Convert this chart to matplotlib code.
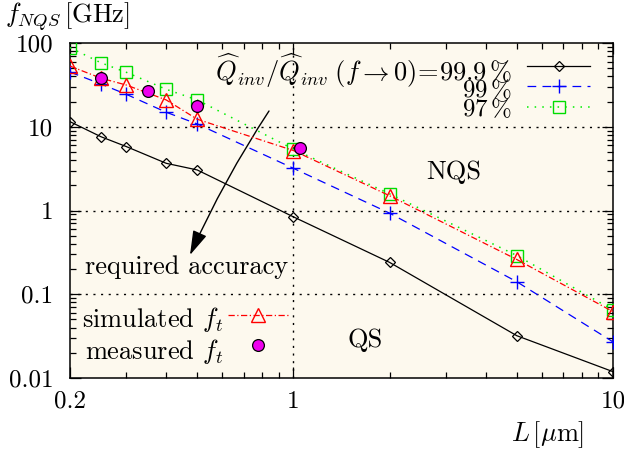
import matplotlib
matplotlib.use("Agg")
import matplotlib.pyplot as plt
from matplotlib.lines import Line2D
from matplotlib.ticker import FixedLocator, NullFormatter, LogLocator

plt.rcParams['font.family'] = 'serif'
plt.rcParams['font.serif'] = ['cmr10', 'DejaVu Serif']
plt.rcParams['mathtext.fontset'] = 'cm'
plt.rcParams['axes.formatter.use_mathtext'] = True

# ---- data ----
L = [0.2, 0.25, 0.3, 0.4, 0.5, 1, 2, 5, 10]
f_999 = [11.5, 7.6, 5.8, 3.66, 3.05, 0.84, 0.24, 0.032, 0.0119]
f_99 = [45, 32.4, 24.4, 14.9, 10.8, 3.19, 0.93, 0.141, 0.027]
f_97 = [88, 58, 44.7, 28, 20.9, 5.4, 1.58, 0.29, 0.065]
f_sim = [53, 38, 31.5, 20.9, 12.3, 5.2, 1.5, 0.26, 0.062]
L_meas = [0.25, 0.35, 0.5, 1.05]
f_meas = [37.9, 27, 17.7, 5.5]

xticks = [0.2, 1, 10]
xticklabels = ['0.2', '1', '10']
yticks = [0.01, 0.1, 1, 10, 100]
yticklabels = ['0.01', '0.1', '1', '10', '100']

FS = 18
FT = 19

fig = plt.figure(figsize=(6.24, 4.54), dpi=100)
ax = fig.add_axes([70/624, 1-378/454, 543/624, 335/454])
ax.set_facecolor('#fdf9ee')
ax.set_xscale('log')
ax.set_yscale('log')
ax.set_xlim(0.2, 10)
ax.set_ylim(0.01, 100)

# grid
for gx in [1]:
    ax.axvline(gx, color='black', lw=1.0, ls=(0, (1.5, 4)), zorder=1)
for gy in [0.1, 1, 10]:
    ax.axhline(gy, color='black', lw=1.0, ls=(0, (1.5, 4)), zorder=1)

ax.plot(L, f_999, color='black', lw=0.9, marker='D', ms=5.5, mfc='none', mec='black', mew=0.9, zorder=3)
ax.plot(L, f_99, color='#0000ff', lw=0.9, ls=(0, (7, 5)), marker='+', ms=10, mew=1.0, zorder=3)
ax.plot(L, f_97, color='#00ee00', lw=1.1, ls=(0, (1, 4)), marker='s', ms=8, mfc='none', mec='#00dd00', mew=1.0, zorder=3)
ax.plot(L, f_sim, color='#ff0000', lw=0.9, ls=(0, (5, 2, 1, 2)), marker='^', ms=9.5, mfc='none', mec='#ff0000', mew=1.0, zorder=4)
ax.plot(L_meas, f_meas, ls='none', marker='o', ms=8.5, mfc='#ee00ee', mec='black', mew=0.9, zorder=5)

# ticks
ax.xaxis.set_major_locator(FixedLocator(xticks))
ax.set_xticklabels(xticklabels)
ax.xaxis.set_minor_locator(LogLocator(base=10, subs=range(2, 10)))
ax.xaxis.set_minor_formatter(NullFormatter())
ax.yaxis.set_major_locator(FixedLocator(yticks))
ax.set_yticklabels(yticklabels)
ax.yaxis.set_minor_locator(LogLocator(base=10, subs=range(2, 10)))
ax.yaxis.set_minor_formatter(NullFormatter())
ax.tick_params(which='both', direction='in', top=True, right=True, labelsize=FS, width=0.9)
ax.tick_params(which='major', length=8)
ax.tick_params(axis='x', which='major', pad=9)
ax.tick_params(axis='y', which='major', pad=12)
ax.tick_params(which='minor', length=4)
for s in ax.spines.values():
    s.set_linewidth(1.1)

# axis labels
fig.text(5/624, 1-17/454, r'$f_{NQS}\,$[GHz]', fontsize=FT, ha='left', va='center')
fig.text(584/624, 1-435/454, r'$L\,[\mu$m]', fontsize=FT, ha='right', va='center')

# legend-like annotations (axes fraction)
def axf(px, py):
    return ((px - 70) / 543, (378 - py) / 335)

ax.text(*axf(512, 71), r'$\widehat{Q}_{inv}/\widehat{Q}_{inv}\;(f\rightarrow 0)\!=\!99.9\,\%$', transform=ax.transAxes,
        fontsize=19, ha='right', va='center')
ax.text(*axf(512, 90), r'$99\,\%$', transform=ax.transAxes, fontsize=18, ha='right', va='center')
ax.text(*axf(512, 109), r'$97\,\%$', transform=ax.transAxes, fontsize=18, ha='right', va='center')

x0, x1 = axf(527, 0)[0], axf(590, 0)[0]
xm = (x0 + x1) / 2
ax.add_line(Line2D([x0, x1], [axf(0, 66)[1]] * 2, transform=ax.transAxes, color='black', lw=0.9))
ax.add_line(Line2D([xm], [axf(0, 66)[1]], transform=ax.transAxes, marker='D', ms=5.5, mfc='none', mec='black', mew=0.9))
ax.add_line(Line2D([x0, x1], [axf(0, 86)[1]] * 2, transform=ax.transAxes, color='#0000ff', lw=0.9, ls=(0, (7, 5))))
ax.add_line(Line2D([xm], [axf(0, 86)[1]], transform=ax.transAxes, marker='+', ms=10, mew=1.0, color='#0000ff'))
ax.add_line(Line2D([x0, x1], [axf(0, 107)[1]] * 2, transform=ax.transAxes, color='#00ee00', lw=1.1, ls=(0, (1, 4))))
ax.add_line(Line2D([xm], [axf(0, 107)[1]], transform=ax.transAxes, marker='s', ms=8, mfc='none', mec='#00dd00', mew=1.0))

ax.text(*axf(454, 172), 'NQS', transform=ax.transAxes, fontsize=FT, ha='center', va='center')
ax.text(*axf(365, 340), 'QS', transform=ax.transAxes, fontsize=FT, ha='center', va='center')
ax.text(*axf(187, 267), 'required accuracy', transform=ax.transAxes, fontsize=FT, ha='center', va='center')

ax.text(*axf(82, 320), r'simulated $f_t$', transform=ax.transAxes, fontsize=FT, ha='left', va='center')
ax.text(*axf(85, 352), r'measured $f_t$', transform=ax.transAxes, fontsize=FT, ha='left', va='center')
s0, s1 = axf(228, 0)[0], axf(290, 0)[0]
ax.add_line(Line2D([s0, s1], [axf(0, 315)[1]] * 2, transform=ax.transAxes, color='#ff0000', lw=0.9, ls=(0, (5, 2, 1, 2))))
ax.add_line(Line2D([axf(258, 0)[0]], [axf(0, 315)[1]], transform=ax.transAxes, marker='^', ms=9.5, mfc='none', mec='#ff0000', mew=1.0))
ax.add_line(Line2D([axf(258, 0)[0]], [axf(0, 345)[1]], transform=ax.transAxes, marker='o', ms=8.5, mfc='#ee00ee', mec='black', mew=0.9))

# arrow
ax.annotate('', xy=axf(190, 255), xytext=axf(269, 111), xycoords='axes fraction', textcoords='axes fraction',
            arrowprops=dict(arrowstyle='-|>,head_length=1.5,head_width=0.45', color='black', lw=1.0,
                            connectionstyle='arc3,rad=0.04', shrinkA=0, shrinkB=0))

fig.savefig('out.png', dpi=100)
